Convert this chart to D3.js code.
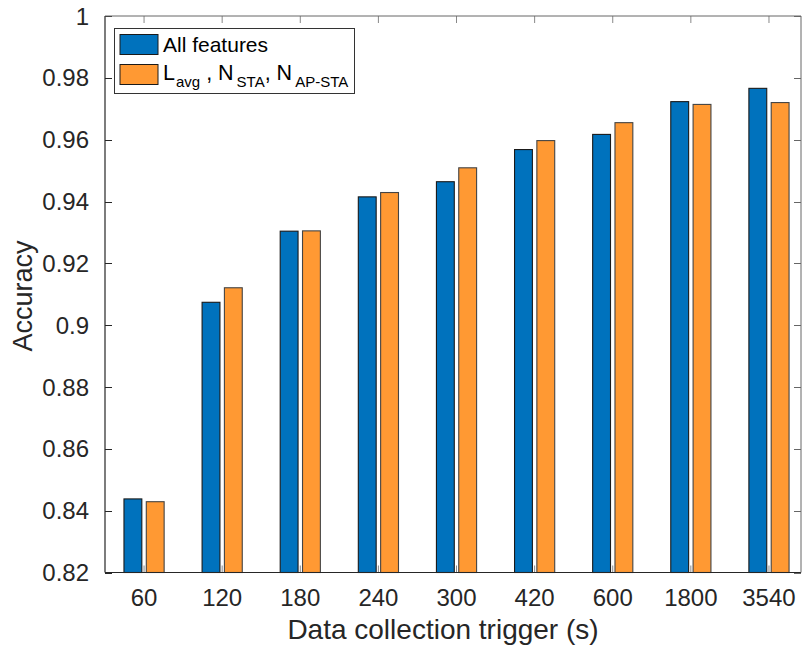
<!DOCTYPE html>
<html>
<head>
<meta charset="utf-8">
<script src="https://cdn.jsdelivr.net/npm/d3@7"></script>
<style>
  html, body { margin: 0; padding: 0; background: #fff; }
  svg { display: block; font-family: "Liberation Sans", Arial, Helvetica, sans-serif; }
</style>
</head>
<body>
<svg id="chart" width="805" height="646"></svg>
<script>
// Trigger intervals (seconds) used as categories
const categories = ["60", "120", "180", "240", "300", "420", "600", "1800", "3540"];
// Classification accuracy with all features
const allFeatures = [0.8438, 0.9074, 0.9304, 0.9415, 0.9464, 0.9568, 0.9617, 0.9723, 0.9766];
// Classification accuracy with the reduced feature set
const reducedFeatures = [0.8429, 0.9121, 0.9305, 0.9429, 0.9509, 0.9597, 0.9655, 0.9714, 0.9720];
const yTicks = [0.82, 0.84, 0.86, 0.88, 0.9, 0.92, 0.94, 0.96, 0.98, 1];

const seriesColors = ["#0072BD", "#FF9933"];
const textColor = "#262626";

const svg = d3.select("#chart");
const plotLeft = 105, plotRight = 801, plotTop = 16, plotBottom = 572.5;

const x = d3.scaleLinear().domain([0.5, 9.41]).range([plotLeft, plotRight]);
const y = d3.scaleLinear().domain([0.82, 1]).range([plotBottom, plotTop]);

// grouped bar geometry (in category units)
const groupWidth = 0.5714;
const offset = groupWidth / 4;
const barW = 0.8 * groupWidth / 2;

const series = [allFeatures, reducedFeatures];

// tick marks (drawn inside the box, on all four sides)
const tickLen = 7;
const g = svg.append("g");
categories.forEach((c, i) => {
  const xp = x(i + 1);
  g.append("line").attr("x1", xp).attr("x2", xp).attr("y1", plotBottom).attr("y2", plotBottom - tickLen)
    .attr("stroke", "#888").attr("stroke-width", 1);
  g.append("line").attr("x1", xp).attr("x2", xp).attr("y1", plotTop).attr("y2", plotTop + tickLen)
    .attr("stroke", "#888").attr("stroke-width", 1);
});
yTicks.forEach(t => {
  const yp = Math.round(y(t)) + 0.5;
  g.append("line").attr("x1", plotLeft).attr("x2", plotLeft + tickLen).attr("y1", yp).attr("y2", yp)
    .attr("stroke", textColor).attr("stroke-width", 1);
  g.append("line").attr("x1", plotRight).attr("x2", plotRight - tickLen).attr("y1", yp).attr("y2", yp)
    .attr("stroke", "#666").attr("stroke-width", 1);
});

// bars
series.forEach((vals, s) => {
  svg.append("g").selectAll("rect").data(vals).join("rect")
    .attr("x", (d, i) => x(i + 1 + (s === 0 ? -offset : offset) - barW / 2))
    .attr("width", x(barW) - x(0))
    .attr("y", d => y(d))
    .attr("height", d => y(0.82) - y(d))
    .attr("fill", seriesColors[s])
    .attr("stroke", s === 0 ? "#1a1a1a" : "#444")
    .attr("stroke-width", 1.1);
});

// axes box
svg.append("line").attr("x1", plotLeft).attr("x2", plotRight).attr("y1", plotBottom).attr("y2", plotBottom)
  .attr("stroke", textColor).attr("stroke-width", 1.2);
svg.append("line").attr("x1", plotLeft).attr("x2", plotLeft).attr("y1", plotTop).attr("y2", plotBottom)
  .attr("stroke", textColor).attr("stroke-width", 1.2);
svg.append("line").attr("x1", plotLeft).attr("x2", plotRight).attr("y1", plotTop).attr("y2", plotTop)
  .attr("stroke", "#666").attr("stroke-width", 1);
svg.append("line").attr("x1", plotRight).attr("x2", plotRight).attr("y1", plotTop).attr("y2", plotBottom)
  .attr("stroke", "#666").attr("stroke-width", 1);

// tick labels
svg.append("g").selectAll("text").data(categories).join("text")
  .attr("x", (d, i) => x(i + 1))
  .attr("y", 606)
  .attr("text-anchor", "middle")
  .attr("font-size", 24)
  .attr("fill", textColor)
  .text(d => d);

svg.append("g").selectAll("text").data(yTicks).join("text")
  .attr("x", 89)
  .attr("y", d => y(d) + 8.5)
  .attr("text-anchor", "end")
  .attr("font-size", 24)
  .attr("fill", textColor)
  .text(d => d3.format("")(+d.toFixed(2)));

// axis titles
svg.append("text")
  .attr("x", 443).attr("y", 639)
  .attr("text-anchor", "middle")
  .attr("font-size", 28)
  .attr("fill", textColor)
  .text("Data collection trigger (s)");

svg.append("text")
  .attr("transform", "translate(32,296) rotate(-90)")
  .attr("text-anchor", "middle")
  .attr("font-size", 27)
  .attr("fill", textColor)
  .text("Accuracy");

// legend
const lg = svg.append("g");
lg.append("rect").attr("x", 114.5).attr("y", 28.5).attr("width", 240).attr("height", 65)
  .attr("fill", "#fff").attr("stroke", "#333").attr("stroke-width", 1);
lg.append("rect").attr("x", 120).attr("y", 34.5).attr("width", 38).attr("height", 20)
  .attr("fill", seriesColors[0]).attr("stroke", "#1a1a1a").attr("stroke-width", 1);
lg.append("rect").attr("x", 120).attr("y", 64.5).attr("width", 38).attr("height", 20)
  .attr("fill", seriesColors[1]).attr("stroke", "#1a1a1a").attr("stroke-width", 1);
lg.append("text").attr("x", 163).attr("y", 52).attr("font-size", 21).attr("fill", "#000")
  .text("All features");

const t2 = lg.append("text").attr("x", 163).attr("y", 80).attr("font-size", 21.5).attr("fill", "#000");
t2.append("tspan").text("L");
t2.append("tspan").attr("font-size", 15).attr("dy", 7).attr("dx", 1).text("avg");
t2.append("tspan").attr("dy", -7).text(" , N");
t2.append("tspan").attr("font-size", 15).attr("dy", 7).attr("dx", 3).text("STA");
t2.append("tspan").attr("dy", -7).text(", N");
t2.append("tspan").attr("font-size", 15).attr("dy", 7).attr("dx", 3).text("AP-STA");
</script>
</body>
</html>
